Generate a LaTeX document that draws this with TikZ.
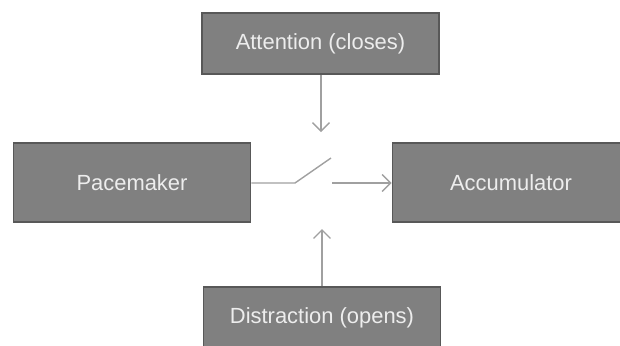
\documentclass[tikz,border=0pt]{standalone}
\usepackage{fontspec}
\setmainfont{Liberation Sans}
\usetikzlibrary{arrows.meta}
\definecolor{boxfill}{HTML}{808080}
\definecolor{boxline}{HTML}{585858}
\definecolor{wire}{HTML}{A0A0A0}
\definecolor{boxtext}{HTML}{EDEDED}
\begin{document}
\begin{tikzpicture}[x=0.025cm,y=-0.025cm,
	block/.style={draw=boxline,line width=1.4pt,fill=boxfill,text=boxtext,
		minimum width=237*0.025cm,inner sep=0pt,font=\fontsize{15.6}{18}\selectfont},
	wireline/.style={draw=wire,line width=1pt},
	wirearrow/.style={wireline,-{Straight Barb[length=6pt,width=12pt,line width=1pt]}}]
	\useasboundingbox (0,0) rectangle (620,345);
	\node[block,minimum height=61*0.025cm] (attn) at (320.5,43.5) {Attention (closes)};
	\node[block,minimum height=79*0.025cm] (pace) at (132,182.5) {Pacemaker};
	\node[block,minimum height=79*0.025cm] (accu) at (511,182.5) {Accumulator};
	\node[block,minimum height=61*0.025cm] (dist) at (322,317.5) {Distraction (opens)};
	\coordinate (hinge) at (295,183);
	\coordinate (lever) at (331,158);
	\coordinate (contact) at (332,183);
	\coordinate (attnend) at (321,132);
	\coordinate (distend) at (322,229);
	\draw[wireline] (pace.east |- hinge) -- (hinge) -- (lever);
	\draw[wirearrow] (contact) -- (accu.west |- contact);
	\draw[wirearrow] (attn.south -| attnend) -- (attnend);
	\draw[wirearrow] (dist.north -| distend) -- (distend);
\end{tikzpicture}
\end{document}
